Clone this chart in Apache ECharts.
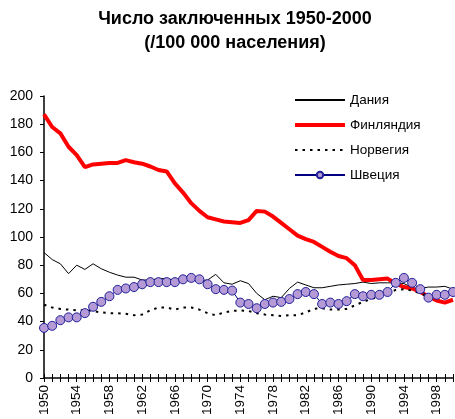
<!DOCTYPE html>
<html>
<head>
<meta charset="utf-8">
<script src="https://cdn.jsdelivr.net/npm/echarts@6/dist/echarts.min.js"></script>
<style>
  html, body { margin: 0; padding: 0; background: #fff; }
  #chart { width: 455px; height: 419px; }
</style>
</head>
<body>
<div id="chart"></div>
<script>
// Prisoners per 100 000 population.
const years = [];
for (let y = 1950; y <= 2000; y += 1) years.push(String(y));

const denmark = [
  89, 84, 81, 74, 80, 77, 81, 77.5, 75, 73,
  71.5, 71.5, 69.5, 69.5, 70.5, 70.5, 69.5, 69.5, 69, 69,
  69.5, 73.5, 67.5, 66.5, 69, 67, 60, 55.5, 58, 57,
  63.5, 68, 66, 64, 64, 65, 66, 66.5, 67, 68,
  67, 67.5, 67.5, 67.5, 67, 64, 63.5, 64.5, 64.5, 65,
  63,
];
const finland = [
  187, 178, 173.5, 164, 158, 149.5, 151.5, 152, 152.5, 152.5,
  154.5, 153, 152, 150, 147.5, 146.5, 138, 131.5, 124, 118.5,
  114, 112.5, 111, 110.5, 110, 112, 118.5, 118, 114.5, 110,
  105.5, 101, 98.5, 96.5, 93, 89.5, 86.5, 85, 80, 69.5,
  69.5, 70, 70.5, 67, 64.5, 63.5, 61, 58, 55, 53.5,
  55.5,
];
const norway = [
  52, 50, 49, 48.5, 48, 48, 47.5, 46.5, 46, 46,
  45.5, 44.5, 45, 48, 50, 50, 48.5, 50, 50, 48.5,
  46, 44.5, 46.5, 47.5, 48, 47.5, 46, 45, 44.5, 44,
  44.5, 44.5, 46.5, 49, 49.5, 48.5, 48.5, 49, 51.5, 54,
  56, 58, 60, 62.5, 63, 62, 60, 57.5, 57.5, 57.5,
  58.5,
];
const sweden = [
  35.5, 37, 41, 43, 43, 46, 50.5, 54, 58, 62.5,
  63.5, 64.5, 66.5, 68, 68, 68, 68, 70, 71, 70,
  66.5, 63, 62.5, 62, 53.5, 52.5, 49.5, 52.5, 53.5, 54,
  56, 59.5, 61, 59.5, 52.5, 53.5, 52.5, 54.5, 59.5, 58,
  59, 59, 61, 67.5, 71, 67.5, 63, 57, 59, 59,
  61,
];
const yTicks = { min: 0, max: 200, interval: 20 };

const FONT = "Liberation Sans, Arial, sans-serif";

// line-only legend entries: hide the marker ECharts adds to line legend icons
const noMarker = { itemStyle: { opacity: 0 } };

const chart = echarts.init(document.getElementById("chart"));
chart.setOption({
  animation: false,
  textStyle: { fontFamily: FONT, color: "#000" },
  title: {
    text: "Число заключенных 1950-2000\n(/100 000 населения)",
    left: 230,
    textAlign: "center",
    top: 2,
    textStyle: { fontSize: 18, fontWeight: "bold", lineHeight: 24, color: "#000", fontFamily: FONT },
  },
  legend: {
    orient: "vertical",
    left: 293,
    top: 93,
    padding: 0,
    itemWidth: 50,
    itemHeight: 8,
    itemGap: 11,
    textStyle: { fontSize: 13.5, color: "#000", fontFamily: FONT },
    data: [
      { name: "Дания", ...noMarker },
      { name: "Финляндия", ...noMarker, lineStyle: { width: 4 } },
      { name: "Норвегия", ...noMarker },
      { name: "Швеция" },
    ],
  },
  grid: { left: 44, right: 2, top: 96, bottom: 41 },
  xAxis: [
    {
      type: "category",
      data: years,
      boundaryGap: false,
      position: "bottom",
      axisLine: { lineStyle: { color: "#000", width: 1.5 } },
      axisTick: { interval: 0, length: 4, lineStyle: { color: "#000" } },
      axisLabel: { interval: 3, rotate: 90, fontSize: 13.5, color: "#000", margin: 7, fontFamily: FONT },
    },
    {
      type: "category",
      data: years,
      boundaryGap: false,
      position: "bottom",
      axisLine: { show: false },
      axisTick: { interval: 0, inside: true, length: 4, lineStyle: { color: "#000" } },
      axisLabel: { show: false },
    },
  ],
  yAxis: {
    type: "value",
    min: yTicks.min,
    max: yTicks.max,
    interval: yTicks.interval,
    axisLine: { show: true, lineStyle: { color: "#000", width: 1.5 } },
    axisTick: { show: true, length: 4, lineStyle: { color: "#000" } },
    axisLabel: { fontSize: 14, color: "#000", margin: 11, fontFamily: FONT },
    splitLine: { show: false },
  },
  series: [
    {
      name: "Дания",
      type: "line",
      data: denmark,
      symbol: "none",
      lineStyle: { color: "#000", width: 1 },
      itemStyle: { color: "#000" },
    },
    {
      name: "Финляндия",
      type: "line",
      data: finland,
      symbol: "none",
      lineStyle: { color: "#ff0000", width: 4 },
      itemStyle: { color: "#ff0000" },
    },
    {
      name: "Норвегия",
      type: "line",
      data: norway,
      symbol: "none",
      lineStyle: { color: "#000", width: 2, type: [2.5, 5] },
      itemStyle: { color: "#000" },
    },
    {
      name: "Швеция",
      type: "line",
      data: sweden,
      symbol: "circle",
      symbolSize: 9,
      showAllSymbol: true,
      lineStyle: { color: "#000080", width: 1 },
      itemStyle: { color: "#b59ad6", borderColor: "#1f1f99", borderWidth: 1 },
    },
  ],
});
</script>
</body>
</html>
